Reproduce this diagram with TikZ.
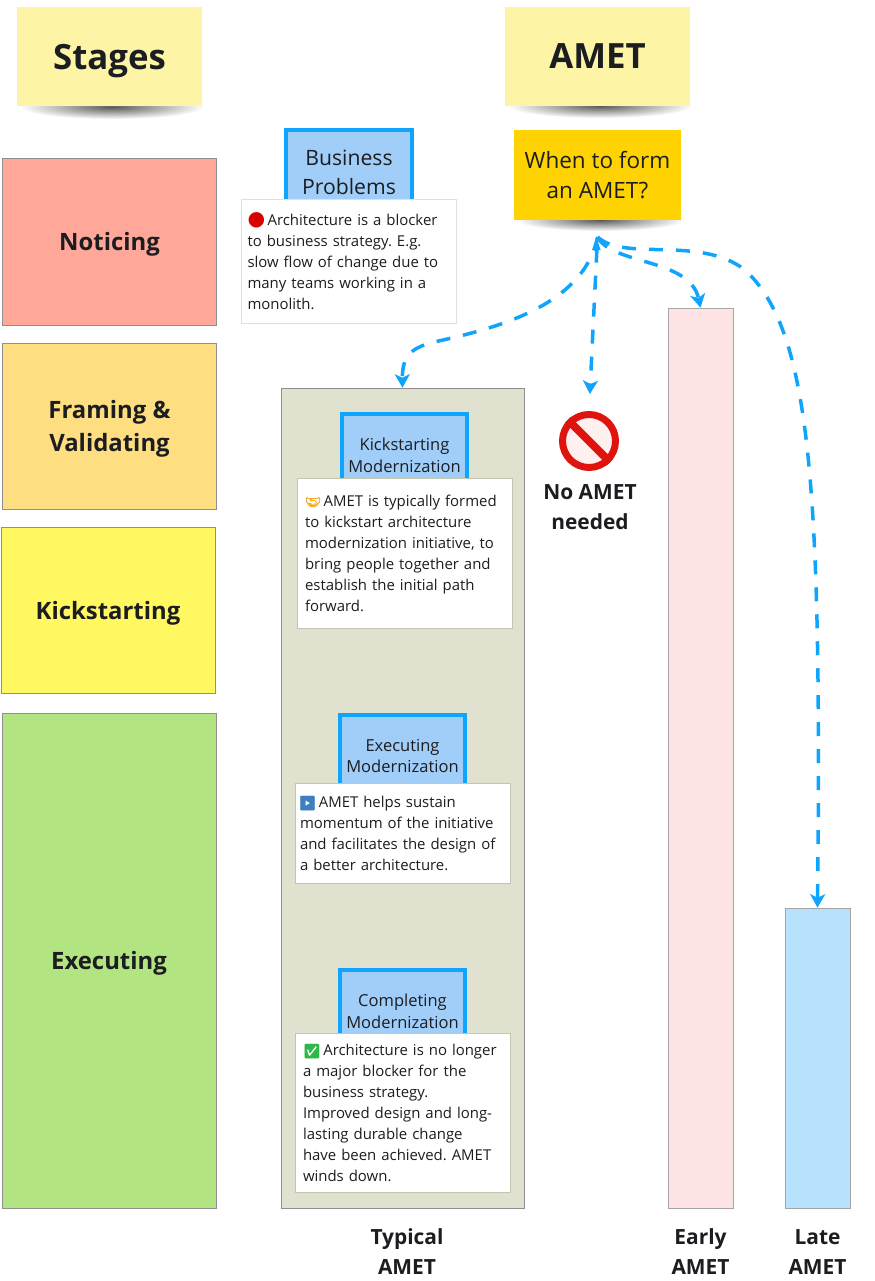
\documentclass[tikz,border=0pt]{standalone}
\usepackage{fontspec}
\setmainfont{Open Sans}
\newfontfamily\emojifont[FakeBold=1.5]{Noto Emoji}
\newfontfamily\symbolfont{DejaVu Sans}
\usepackage{xcolor}
\usetikzlibrary{arrows.meta,calc}
\definecolor{Ink}{HTML}{1C1D20}
\definecolor{Frame}{HTML}{8F8F8F}
\definecolor{Sticky}{HTML}{FDF4A6}
\definecolor{Gold}{HTML}{FFD302}
\definecolor{Salmon}{HTML}{FFA89A}
\definecolor{Amber}{HTML}{FEDE80}
\definecolor{Lemon}{HTML}{FFF860}
\definecolor{Leaf}{HTML}{B2E581}
\definecolor{Sky}{HTML}{0FA5FD}
\definecolor{SkySoft}{HTML}{A0CEF9}
\definecolor{Olive}{HTML}{E0E2CF}
\definecolor{OliveEdge}{HTML}{C4C7AD}
\definecolor{Blush}{HTML}{FDE3E3}
\definecolor{Pale}{HTML}{B6E2FE}
\definecolor{Stop}{HTML}{E0140F}
\definecolor{Steel}{HTML}{3F7FBF}
\definecolor{Shake}{HTML}{F5A81C}
\definecolor{Tick}{HTML}{2FB84A}
\newcommand{\icon}[3]{{\emojifont\fontsize{#2}{11}\selectfont\color{#1}#3}\hspace{-0.05cm}}
\tikzset{
  sticky/.style={fill=Sticky,text=Ink,font=\fontsize{19.8}{24}\selectfont\bfseries,minimum width=3.7cm,minimum height=2cm,inner sep=0pt,text depth=0pt},
  stickyshade/.style={inner color=black!65,outer color=white},
  question/.style={fill=Gold,text=Ink,font=\fontsize{12.8}{17.2}\selectfont,minimum width=3.34cm,minimum height=1.8cm,align=center,inner sep=0pt},
  stage/.style={draw=Frame,text=Ink,font=\fontsize{13.6}{18.6}\selectfont\bfseries,minimum width=4.28cm,align=center,inner sep=0pt,text depth=0pt},
  topic/.style={draw=Sky,fill=SkySoft,line width=0.08cm,text=Ink,minimum width=2.52cm,align=center,inner sep=0pt,font=\fontsize{9.4}{12.5}\selectfont},
  card/.style={draw=OliveEdge,fill=white,text=Ink,text width=4.06cm,minimum width=4.3cm,align=left,inner xsep=0.12cm,inner ysep=0pt,font=\fontsize{8.5}{11.95}\selectfont\frenchspacing},
  cardwide/.style={card,text width=3.98cm,inner xsep=0.16cm},
  lane/.style={draw=Frame!80,minimum width=1.3cm,inner sep=0pt},
  caption/.style={text=Ink,font=\fontsize{11.9}{17.1}\selectfont\bfseries,align=center,inner sep=0pt},
  jump/.style={draw=Sky,line width=0.07cm,dash pattern=on 0.28cm off 0.26cm,-{Stealth[length=0.27cm,width=0.3cm,inset=0.07cm]}}
}
\begin{document}
\begin{tikzpicture}[x=0.02cm,y=-0.02cm]
  \useasboundingbox (0,0) rectangle (875,1281);
  % header notes
  \shade[stickyshade] (112,107) ellipse (92 and 12);
  \shade[stickyshade] (600,106) ellipse (92 and 12);
  \shade[stickyshade] (600,220) ellipse (84 and 11);
  \node[sticky] (stages) at (109.5,56.5) {Stages};
  \node[sticky] (amet) at (597.5,56.5) {AMET};
  \node[question] (ask) at (597.5,175) {When to form\\an AMET?};
  % stages
  \node[stage,fill=Salmon,minimum height=3.34cm] (noticing) at (109.5,241.5) {Noticing};
  \node[stage,fill=Amber,minimum height=3.32cm] (framing) at (109.5,426) {Framing \&\\Validating};
  \node[stage,fill=Lemon,minimum height=3.32cm] (kickstarting) at (108,610) {Kickstarting};
  \node[stage,fill=Leaf,minimum height=9.9cm] (executing) at (109,960.5) {Executing};
  % business problems
  \node[topic,minimum height=1.7cm,font=\fontsize{12.05}{16.4}\selectfont] (problems) at (349,172.5) {Business\\Problems};
  \node[card,draw=black!12,minimum height=2.48cm] (blocker) at (349,261.5) {{\symbolfont\fontsize{11.5}{11}\selectfont\color{red!85!black}●}\hspace{-0.05cm} Architecture is a blocker\\to business strategy. E.g.\\slow flow of change due to\\many teams working in a\\monolith.};
  % typical lane
  \node[draw=Frame,fill=Olive,minimum width=4.86cm,minimum height=16.4cm,inner sep=0pt] (typical) at (402.5,798) {};
  \node[topic,minimum height=1.64cm] (kickoff) at (404.5,455) {Kickstarting\\Modernization};
  \node[cardwide,minimum height=3cm] (formed) at (404.5,553.5) {\icon{Shake}{7.2}{🤝} AMET is typically formed\\to kickstart architecture\\modernization initiative, to\\bring people together and\\establish the initial path\\forward.};
  \node[topic,minimum height=1.64cm] (running) at (402.5,756) {Executing\\Modernization};
  \node[card,inner xsep=0.1cm,text width=4.1cm,minimum height=2cm] (sustain) at (402.5,833.5) {\hspace{-0.03cm}\icon{Steel}{8}{▶} AMET helps sustain\\momentum of the initiative\\and facilitates the design of\\a better architecture.};
  \node[topic,minimum height=1.64cm] (closing) at (402.5,1011) {Completing\\Modernization};
  \node[cardwide,minimum height=3.18cm] (achieved) at (402.5,1113) {\icon{Tick}{8}{✅} Architecture is no longer\\a major blocker for the\\business strategy.\\Improved design and long-\\lasting durable change\\have been achieved. AMET\\winds down.};
  % other lanes
  \node[lane,fill=Blush,minimum height=18cm] (early) at (700.5,758) {};
  \node[lane,fill=Pale,minimum height=6cm] (late) at (817.5,1058) {};
  \node[circle,draw=Stop,fill=red!6,line width=0.14cm,minimum size=1.06cm,inner sep=0pt] (forbidden) at (589,441) {};
  \draw[Stop,line width=0.16cm] (forbidden.135) -- (forbidden.-45);
  \node[caption] (none) at (590,507) {No AMET\\needed};
  \node[caption] at (407,1252) (typicallabel) {Typical\\AMET};
  \node[caption] at (700.5,1252) (earlylabel) {Early\\AMET};
  \node[caption] at (817.5,1252) (latelabel) {Late\\AMET};
  % jumps out of the question
  \coordinate (fork) at (597.5,237);
  \draw[jump] (fork) .. controls (585,300) and (510,325) .. (443,340) .. controls (415,346) and (402,352) .. (typical.north);
  \draw[jump,{Latex[length=0.26cm,width=0.16cm]}-{Stealth[length=0.27cm,width=0.3cm,inset=0.07cm]},shorten >=0.34cm] (fork) -- (forbidden.north);
  \draw[jump] (fork) .. controls (612,265) and (690,258) .. (early.north);
  \draw[jump] (fork) .. controls (625,262) and (700,235) .. (745,270) .. controls (810,330) and (822,480) .. (late.north);
\end{tikzpicture}
\end{document}
